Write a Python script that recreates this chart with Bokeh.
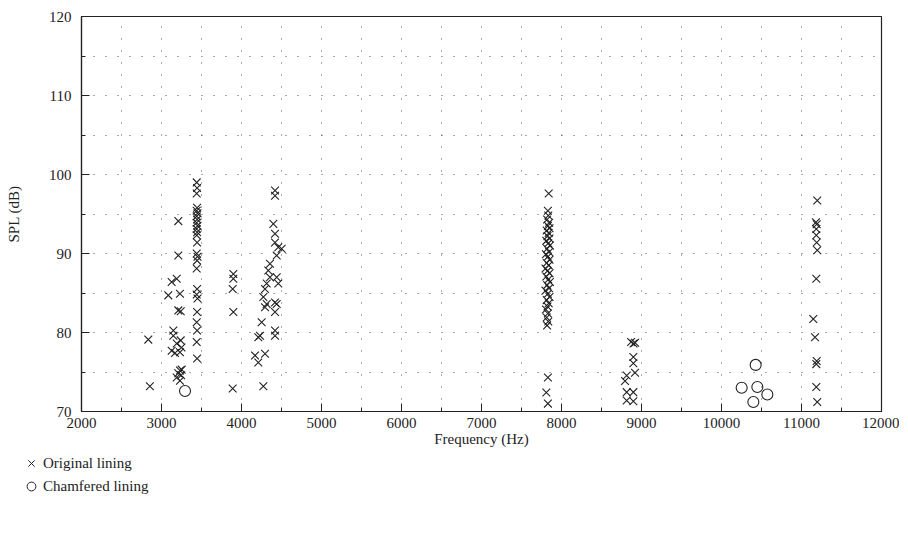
from bokeh.plotting import figure
from bokeh.models import Legend, LegendItem, FixedTicker, Range1d
from bokeh.embed import file_html
from bokeh.resources import INLINE

# Original lining (Hz, dB)
orig_freq = [
    2835, 2855,
    3210, 3210, 3127, 3190, 3085, 3231, 3210, 3240, 3148, 3148, 3240, 3190, 3250,
    3127, 3231, 3169, 3231, 3252, 3210, 3245, 3190, 3231,
    3440, 3445, 3440, 3445, 3440, 3450, 3440, 3445, 3440, 3450, 3440, 3445, 3440,
    3445, 3440, 3450, 3445, 3440, 3445, 3440, 3450, 3445, 3440, 3445, 3440, 3445,
    3898, 3898, 3890, 3898, 3890,
    4419, 4419, 4398, 4419, 4419, 4460, 4502, 4440, 4356, 4335, 4356, 4440, 4315,
    4460, 4294, 4273, 4315, 4419, 4440, 4294, 4419, 4252, 4419, 4419, 4231, 4210,
    4169, 4210, 4294, 4273,
    7840, 7830, 7835, 7820, 7845, 7830, 7850, 7815, 7840, 7825, 7850, 7810, 7835,
    7855, 7820, 7845, 7805, 7830, 7850, 7815, 7840, 7800, 7825, 7850, 7810, 7835,
    7855, 7820, 7845, 7800, 7830, 7850, 7815, 7840, 7825, 7805, 7830, 7815, 7835,
    7820, 7830, 7810, 7830,
    8870, 8900, 8920, 8898, 8898, 8919, 8815, 8794, 8898, 8815, 8815, 8898,
    11197, 11181, 11190, 11185, 11185, 11190, 11197, 11185, 11147, 11169, 11190,
    11185, 11185, 11197,
]
orig_spl = [
    79.1, 73.2,
    94.1, 89.75, 86.4, 86.8, 84.7, 84.9, 82.8, 82.7, 80.25, 79.6, 79.0, 78.6, 78.1,
    77.7, 77.5, 77.4, 75.2, 75.3, 74.85, 74.6, 74.3, 73.9,
    99.0, 98.3, 97.6, 95.8, 95.4, 95.1, 94.7, 94.3, 93.9, 93.5, 93.1, 92.7, 92.3,
    91.4, 90.0, 89.6, 89.1, 88.1, 85.5, 84.8, 84.3, 82.6, 81.3, 80.25, 78.8, 76.7,
    87.4, 86.8, 85.5, 82.6, 72.9,
    97.97, 97.3, 93.75, 92.5, 91.4, 90.8, 90.6, 89.75, 88.7, 87.85, 87.0, 87.0, 86.2,
    86.2, 85.5, 84.5, 83.6, 83.8, 83.6, 83.2, 82.6, 81.3, 80.25, 79.6, 79.6, 79.4,
    77.1, 76.2, 77.3, 73.2,
    97.6, 95.4, 94.8, 94.3, 93.9, 93.5, 93.2, 92.9, 92.6, 92.2, 91.9, 91.6, 91.3,
    91.0, 90.6, 90.2, 89.9, 89.6, 89.2, 88.8, 88.5, 88.1, 87.8, 87.5, 87.1, 86.7,
    86.4, 86.0, 85.6, 85.3, 84.9, 84.5, 84.1, 83.7, 83.3, 82.9, 82.4, 81.9, 81.4,
    80.9, 74.3, 72.4, 71.0,
    78.8, 78.6, 78.7, 76.9, 76.1, 74.9, 74.55, 73.85, 72.45, 72.45, 71.4, 71.3,
    96.7, 93.95, 93.7, 93.1, 92.3, 91.4, 90.4, 86.8, 81.7, 79.4, 76.4,
    76.0, 73.1, 71.2,
]

# Chamfered lining (Hz, dB)
cham_freq = [3294, 10427, 10252, 10448, 10573, 10398]
cham_spl = [72.6, 75.9, 73.0, 73.1, 72.15, 71.2]

x_ticks = [2000, 3000, 4000, 5000, 6000, 7000, 8000, 9000, 10000, 11000, 12000]
y_ticks = [70, 80, 90, 100, 110, 120]
series_labels = ["Original lining", "Chamfered lining"]

FONT = "Liberation Serif"
INK = "#222222"

p = figure(width=899, height=452, output_backend="svg", toolbar_location=None,
           x_range=Range1d(2000, 12000), y_range=Range1d(70, 120),
           min_border_left=81, min_border_right=18, min_border_top=16,
           min_border_bottom=41)

p.outline_line_color = INK
p.outline_line_width = 1.2
p.background_fill_color = "white"

for ax in (p.xaxis[0], p.yaxis[0]):
    ax.axis_line_color = INK
    ax.axis_line_width = 1.2
    ax.major_tick_in = 8
    ax.major_tick_out = 0
    ax.minor_tick_in = 4
    ax.minor_tick_out = 0
    ax.major_tick_line_color = INK
    ax.minor_tick_line_color = INK
    ax.major_label_text_font = FONT
    ax.major_label_text_font_size = "15px"
    ax.major_label_text_color = INK
    ax.axis_label_text_font = FONT
    ax.axis_label_text_font_size = "15px"
    ax.axis_label_text_font_style = "normal"
    ax.axis_label_text_color = INK

p.xaxis.ticker = FixedTicker(ticks=x_ticks, minor_ticks=list(range(2500, 12000, 1000)))
p.yaxis.ticker = FixedTicker(ticks=y_ticks, minor_ticks=[75, 85, 95, 105, 115])
p.xaxis.axis_label = "Frequency (Hz)"
p.yaxis.axis_label = "SPL (dB)"
p.xaxis.major_label_standoff = 6
p.yaxis.major_label_standoff = 10
p.xaxis.axis_label_standoff = 0
p.yaxis.axis_label_standoff = 24

p.xgrid.ticker = FixedTicker(ticks=list(range(2500, 12000, 500)))
p.ygrid.ticker = FixedTicker(ticks=list(range(75, 120, 5)))
for g in (p.xgrid[0], p.ygrid[0]):
    g.grid_line_color = "#555555"
    g.grid_line_dash = "1 11"
    g.grid_line_width = 1

p.scatter(orig_freq, orig_spl, marker="x", size=11, line_color=INK, line_width=1.1)
p.scatter(cham_freq, cham_spl, marker="circle", size=11, fill_color=None,
          line_color=INK, line_width=1.1)

# Legend panel below the plot (a separate root, so its frame is not aligned)
p2 = figure(width=899, height=70, output_backend="svg", toolbar_location=None,
            x_axis_location=None, y_axis_location=None,
            x_range=Range1d(0, 1), y_range=Range1d(0, 1), min_border=0)
p2.outline_line_color = None
p2.grid.visible = False
# same series, outside this panel's ranges: only their legend samples show
l1 = p2.scatter(orig_freq, orig_spl, marker="x", size=10, line_color=INK, line_width=1)
l2 = p2.scatter(cham_freq, cham_spl, marker="circle", size=8, fill_color=None,
                line_color=INK, line_width=1)
legend = Legend(items=[LegendItem(label=series_labels[0], renderers=[l1]),
                       LegendItem(label=series_labels[1], renderers=[l2])],
                location=(20, 70 - 45), orientation="vertical")
legend.border_line_color = None
legend.background_fill_alpha = 0
legend.label_text_font = FONT
legend.label_text_font_size = "15px"
legend.label_text_color = INK
legend.glyph_width = 22
legend.glyph_height = 22
legend.spacing = 1
legend.label_standoff = 1
legend.margin = 0
legend.padding = 0
p2.add_layout(legend, "center")

open("out.html", "w").write(file_html([p, p2], INLINE))
